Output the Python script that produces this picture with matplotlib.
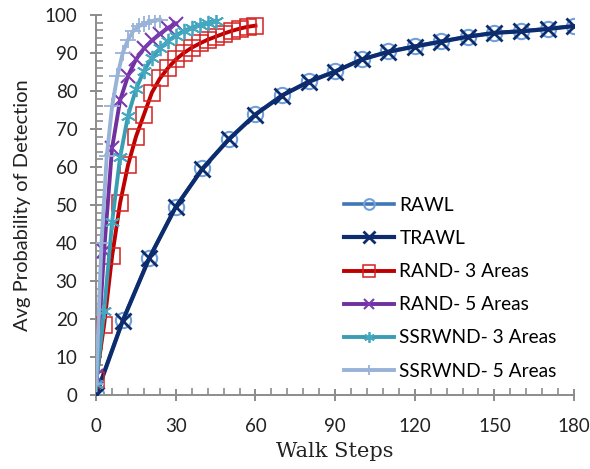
import matplotlib
matplotlib.use("Agg")
import matplotlib.pyplot as plt
from matplotlib.ticker import MultipleLocator

# ---- data ----
trawl_x = [0, 10, 20, 30, 40, 50, 60, 70, 80, 90, 100, 110, 120, 130, 140, 150, 160, 170, 180]
trawl_y = [0, 19.5, 36, 49.5, 59.5, 67.3, 73.8, 78.8, 82.4, 85.1, 88.3, 90.3, 91.7, 93.0, 94.3, 95.3, 95.7, 96.3, 97.1]
rawl_x = trawl_x
rawl_y = [0.2, 19.6, 36.1, 49.5, 59.6, 67.4, 73.9, 78.9, 82.5, 85.2, 88.3, 90.4, 91.8, 93.1, 94.3, 95.3, 95.8, 96.4, 97.1]

rand3_x = [0, 3, 6, 9, 12, 15, 18, 21, 24, 27, 30, 33, 36, 39, 42, 45, 48, 51, 54, 57, 60]
rand3_y = [4, 18.5, 36.5, 50.5, 60.5, 68, 73.8, 79.6, 83.3, 86, 88.3, 90, 91.4, 92.5, 93.5, 94.3, 95.1, 95.8, 96.4, 96.9, 97.2]

rand5_x = [0, 3, 6, 9, 12, 15, 18, 21, 24, 27, 30]
rand5_y = [5, 38, 65, 77.5, 84, 88.3, 91.2, 93.3, 95, 96.6, 97.7]

ssr3_x = [0, 3, 6, 9, 12, 15, 18, 21, 24, 27, 30, 33, 36, 39, 42, 45]
ssr3_y = [3, 22, 45.5, 62.5, 73.5, 80.5, 85.3, 88.7, 91.2, 93.1, 94.6, 95.8, 96.7, 97.4, 98.0, 98.5]

ssr5_x = [0, 2, 4, 6, 8, 10, 12, 14, 16, 18, 20, 22, 24]
ssr5_y = [3, 40, 63, 76, 84, 90, 93.5, 95.8, 97, 97.7, 98.2, 98.6, 98.8]

labels = ["RAWL", "TRAWL", "RAND- 3 Areas", "RAND- 5 Areas", "SSRWND- 3 Areas", "SSRWND- 5 Areas"]
x_ticks = [0, 30, 60, 90, 120, 150, 180]
y_ticks = [0, 10, 20, 30, 40, 50, 60, 70, 80, 90, 100]

sans = ["Lato", "DejaVu Sans"]
plt.rcParams['font.family'] = sans

fig = plt.figure(figsize=(5.9, 4.69), dpi=100)
ax = fig.add_axes([0.163, 0.158, 0.810, 0.810])

ax.plot(rawl_x, rawl_y, color="#3F76B6", lw=2.6, marker="o", ms=11, mfc="none",
        mec="#6FA0DC", mew=1.5, label=labels[0], zorder=2)
ax.plot(trawl_x, trawl_y, color="#0C2C6E", lw=3.0, marker="x", ms=11.5, mew=2.0,
        mec="#0C2C6E", label=labels[1], zorder=3)
ax.plot(rand3_x, rand3_y, color="#C00000", lw=2.8, marker="s", ms=11.5, mfc="none",
        mec="#D42020", mew=1.1, label=labels[2], zorder=4)
ax.plot(rand5_x, rand5_y, color="#7030A0", lw=2.8, marker="x", ms=10, mew=1.5,
        mec="#7A3AB0", label=labels[3], zorder=5)
ax.plot(ssr3_x, ssr3_y, color="#3A9DB4", lw=2.8, marker=(6, 2, 0), ms=11, mew=1.3,
        mec="#45A8C0", label=labels[4], zorder=6)
ax.plot(ssr5_x, ssr5_y, color="#98B2D8", lw=2.8, marker="+", ms=11, mew=1.3,
        mec="#98B2D8", label=labels[5], zorder=7)

ax.set_xlim(0, 180)
ax.set_ylim(0, 100)
ax.set_xticks(x_ticks)
ax.set_yticks(y_ticks)
ax.xaxis.set_minor_locator(MultipleLocator(6))
ax.yaxis.set_minor_locator(MultipleLocator(2))

for s in ["top", "right"]:
    ax.spines[s].set_visible(False)
for s in ["left", "bottom"]:
    ax.spines[s].set_color("#8C8C8C")
    ax.spines[s].set_linewidth(1.4)

ax.tick_params(which="major", direction="inout", length=9, width=1.4, color="#8C8C8C",
               labelsize=13.5, labelcolor="#222222")
ax.tick_params(which="minor", direction="in", length=5, width=1.2, color="#8C8C8C")
ax.tick_params(axis="x", which="major", pad=12)
ax.tick_params(axis="y", which="major", pad=9)

ax.set_xlabel("Walk Steps", fontsize=15, family=["DejaVu Serif"], color="#222222", labelpad=5)
ax.set_ylabel("Avg Probability of Detection", fontsize=14.5, color="#222222", labelpad=10)

leg = ax.legend(loc="lower right", bbox_to_anchor=(1.0, -0.005), frameon=False,
                fontsize=13.8, handlelength=2.6, labelspacing=0.84, handletextpad=0.3,
                markerscale=0.7)

fig.savefig("out.png", dpi=100)
